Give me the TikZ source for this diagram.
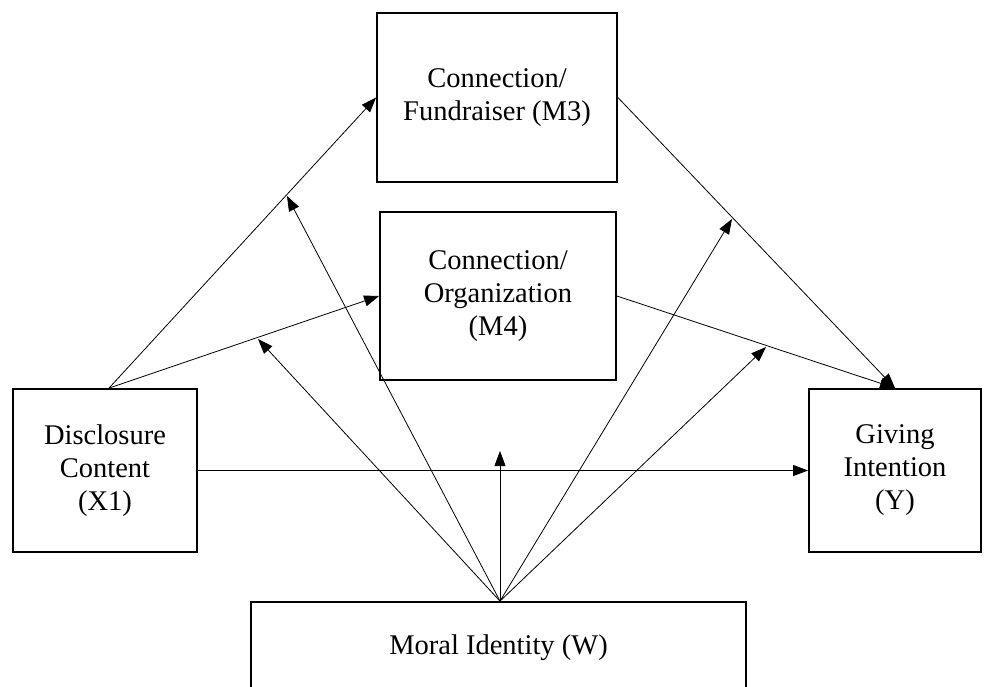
\documentclass[tikz,border=0pt]{standalone}
\usepackage{fontspec}
\setmainfont{Liberation Serif}
\usetikzlibrary{arrows.meta,calc}
\begin{document}
\begin{tikzpicture}[x=1pt,y=-1pt,
  box/.style={draw,line width=1.8pt,align=center,inner sep=0pt,
    font=\fontsize{28.5}{33}\selectfont},
  link/.style={line width=0.8pt,-{Triangle[length=15pt,width=11pt]}}]
\clip (0,0) rectangle (984,687);
\useasboundingbox (0,0) rectangle (984,687);
% boxes
\node[box,minimum width=240pt,minimum height=169pt] (m3) at (497,97.5) {Connection/\\Fundraiser (M3)};
\node[box,minimum width=236pt,minimum height=168pt] (m4) at (498,296) {Connection/\\Organization\\(M4)};
\node[box,minimum width=184pt,minimum height=163pt] (x1) at (105,470.5) {Disclosure\\Content\\(X1)};
\node[box,minimum width=172pt,minimum height=163pt] (y) at (895,470.5) {Giving\\Intention\\(Y)};
\node[box,minimum width=495pt,minimum height=92pt] (w) at (498.5,648) {Moral Identity (W)};
% shared start points of the fans of arrows
\coordinate (xs) at ($(x1.north)+(4,0)$);
\coordinate (ws) at ($(w.north)+(1.5,0)$);
% direct and mediated paths
\draw[link] (xs) -- (m3.west);
\draw[link] (xs) -- (m4.west);
\draw[link] (x1.east) -- (y.west);
\draw[link] (m3.east) -- (y.north);
\draw[link] (m4.east) -- (y.north);
% moderation arrow ends
\coordinate (t1) at (287,196);
\coordinate (t2) at (258,339);
\coordinate (t3) at (500,451);
\coordinate (t4) at (732,219);
\coordinate (t5) at (766,347);
\foreach \t in {t1,t2,t3,t4,t5}
  \draw[link] (ws) -- (\t);
\end{tikzpicture}
\end{document}
